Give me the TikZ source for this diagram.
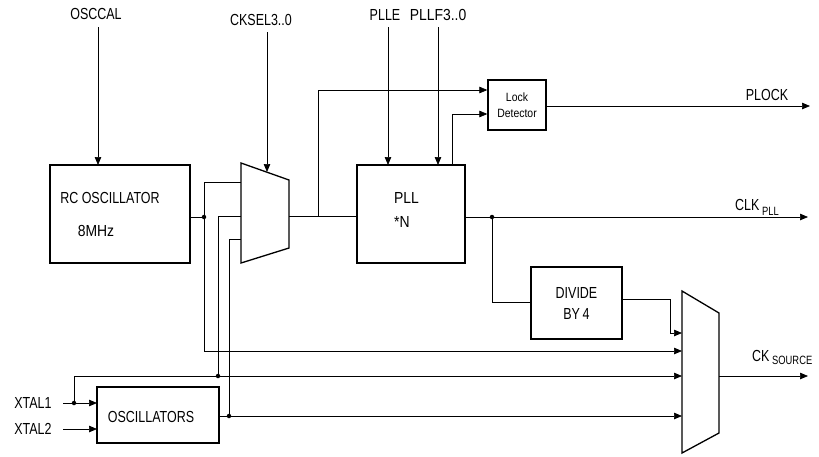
\documentclass[tikz,border=0pt]{standalone}
\usepackage{fontspec}
\setmainfont{Liberation Sans}[FakeStretch=0.78]
\newfontfamily\widefont{Liberation Sans}[FakeStretch=0.87]
\usetikzlibrary{arrows.meta}

\tikzset{
    blk/.style={draw,line width=1.3pt,inner sep=0pt},
    sig/.style={line width=0.7pt},
    arr/.style={sig,-{Triangle[length=8pt,width=6.5pt]}},
    lbl/.style={inner sep=0pt,font=\fontsize{16}{18}\selectfont},
    jdot/.style={circle,fill,inner sep=0pt,minimum size=4.5pt}
}

\begin{document}
\begin{tikzpicture}[x=1pt,y=-1pt]
    \useasboundingbox (0,0) rectangle (819,456);

    % blocks
    \node[blk,minimum width=140pt,minimum height=98pt] (rcosc) at (120,214) {};
    \node[blk,minimum width=108pt,minimum height=98pt] (pll) at (411,214) {};
    \node[blk,minimum width=58pt,minimum height=50pt,align=center,
          font=\widefont\fontsize{12}{16}\selectfont] (lock) at (517,105) {Lock\\Detector};
    \node[blk,minimum width=91pt,minimum height=72pt,align=center,
          font=\fontsize{16}{21}\selectfont] (divide) at (576.5,303) {DIVIDE\\BY\,4};
    \node[blk,minimum width=122pt,minimum height=56pt] (osc) at (158,415) {};

    \node[lbl] (rctxt) at (110,198) {RC OSCILLATOR};
    \node[lbl,font=\widefont\fontsize{16}{18}\selectfont] (mhz) at (96,231) {8MHz};
    \node[lbl,anchor=west,font=\widefont\fontsize{16}{18}\selectfont] (plltxt) at (394,198) {PLL};
    \node[lbl,anchor=west,font=\widefont\fontsize{16}{18}\selectfont] (ntxt) at (394,222) {*N};
    \node[lbl] (osctxt) at (151,417) {OSCILLATORS};

    % multiplexers
    \coordinate (MA) at (241,163);
    \coordinate (MB) at (289,180);
    \coordinate (MC) at (289,248);
    \coordinate (MD) at (241,263);
    \draw[line width=1.3pt] (MA) -- (MB) -- (MC) -- (MD) -- cycle;
    \coordinate (NA) at (682,291);
    \coordinate (NB) at (719,313);
    \coordinate (NC) at (719,433);
    \coordinate (ND) at (682,453);
    \draw[line width=1.3pt] (NA) -- (NB) -- (NC) -- (ND) -- cycle;

    % labels
    \node[lbl] (osccal) at (96,14) {OSCCAL};
    \node[lbl] (cksel) at (261,20) {CKSEL3..0};
    \node[lbl] (plle) at (385,15) {PLLE};
    \node[lbl,font=\widefont\fontsize{16}{18}\selectfont] (pllf) at (438,15) {PLLF3..0};
    \node[lbl] (plock) at (767,95) {PLOCK};
    \node[lbl,anchor=west] (clkpll) at (735,207) {CLK\,{\fontsize{12}{13}\selectfont\raisebox{-5pt}{PLL}}};
    \node[lbl,anchor=west] (cksrc) at (752,357) {CK\,{\fontsize{12}{13}\selectfont\raisebox{-3pt}{SOURCE}}};
    \node[lbl] (xtal1) at (33,403) {XTAL1};
    \node[lbl] (xtal2) at (33,429) {XTAL2};

    % junctions
    \coordinate (J1) at (204,217);
    \coordinate (J2) at (218,376);
    \coordinate (J3) at (229,416);
    \coordinate (J4) at (74,403);
    \coordinate (J5) at (492,217);
    \coordinate (J6) at (318,216);
    \coordinate (X1) at (63,403);
    \coordinate (X2) at (63,429);
    \coordinate (PO) at (810,106);
    \coordinate (CO) at (808,217);
    \coordinate (SO) at (808,376);

    % control inputs
    \draw[arr] (98,27) -- (98,165);
    \draw[arr] (267,32) -- (267,172);
    \draw[arr] (388,27) -- (388,165);
    \draw[arr] (438,27) -- (438,165);

    % rc oscillator path
    \draw[sig] (190,217) -- (J1);
    \draw[sig] (J1 |- 0,182) -- (241,182);
    \draw[sig] (J1 |- 0,182) -- (J1 |- 0,351);
    \draw[arr] (J1 |- 0,351) -- (682,351);

    % xtal inputs
    \draw[arr] (X1) -- (97,403);
    \draw[arr] (X2) -- (97,429);
    \draw[sig] (J4) -- (74,376) -- (J2);
    \draw[arr] (J2) -- (682,376);
    \draw[sig] (J2) -- (218,216) -- (241,216);
    \draw[arr] (219,416) -- (682,416);
    \draw[sig] (J3) -- (229,239) -- (241,239);

    % pll path
    \draw[sig] (289,216) -- (357,216);
    \draw[arr] (J6) -- (318,90) -- (lock.west |- 0,90);
    \draw[arr] (452,165) -- (452,114) -- (lock.west |- 0,114);
    \draw[arr] (lock.east |- PO) -- (PO);
    \draw[arr] (465,217) -- (CO);
    \draw[sig] (J5) -- (492,302) -- (divide.west |- 0,302);
    \draw[arr] (divide.east |- 0,299) -- (670,299) -- (670,333) -- (682,333);
    \draw[arr] (719,376) -- (SO);

    \foreach \j in {J1,J2,J3,J4,J5}
        \node[jdot] at (\j) {};
\end{tikzpicture}
\end{document}
